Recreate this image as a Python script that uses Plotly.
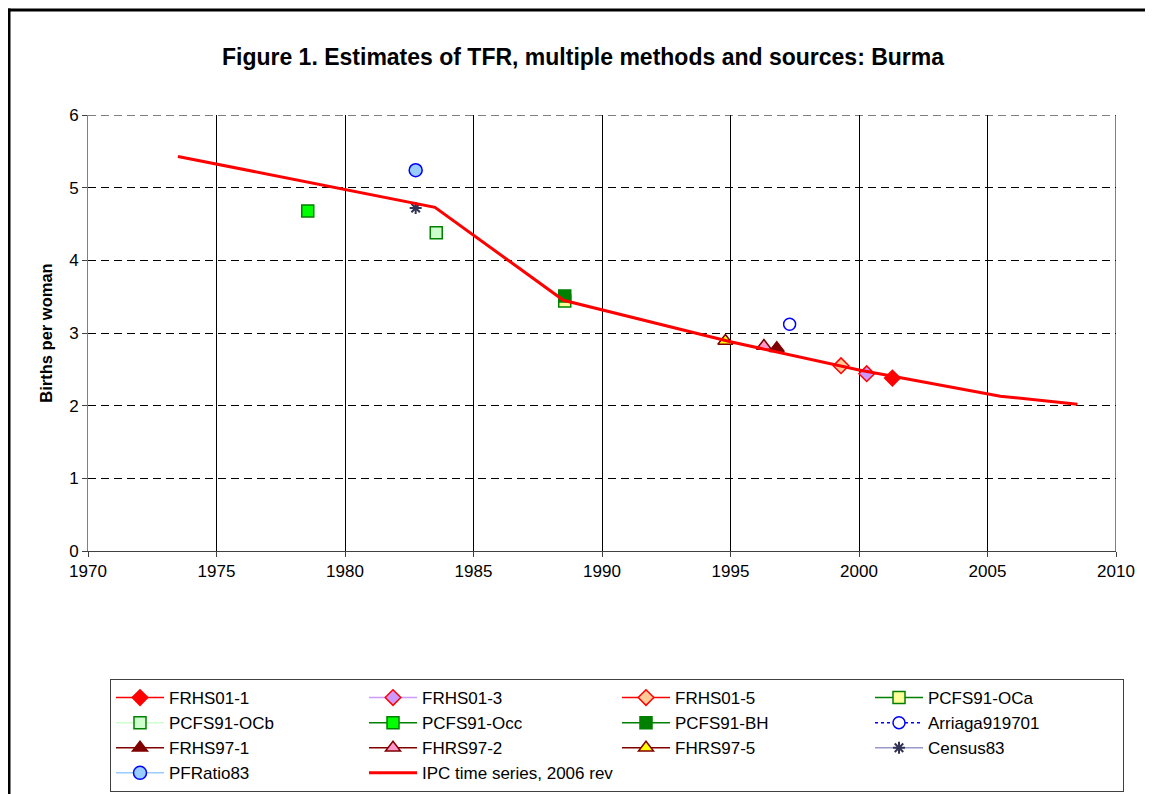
import plotly.graph_objects as go

# ---- data ----
ipc_years = [1973.5, 1983.5, 1988.5, 1995.0, 2000.0, 2005.5, 2008.5]
ipc_tfr = [5.43, 4.73, 3.45, 2.88, 2.49, 2.13, 2.02]

series_names = ["FRHS01-1", "FRHS01-3", "FRHS01-5", "PCFS91-OCa",
                "PCFS91-OCb", "PCFS91-Occ", "PCFS91-BH", "Arriaga919701",
                "FRHS97-1", "FHRS97-2", "FHRS97-5", "Census83",
                "PFRatio83"]
series_years = [2001.3, 2000.3, 1999.3, 1988.55,
                1983.55, 1978.55, 1988.55, 1997.3,
                1996.8, 1996.3, 1994.8, 1982.75,
                1982.75]
series_tfr = [2.38, 2.44, 2.55, 3.44,
              4.38, 4.68, 3.51, 3.12,
              2.79, 2.82, 2.89, 4.72,
              5.24]

x_ticks = [1970, 1975, 1980, 1985, 1990, 1995, 2000, 2005, 2010]
y_ticks = [0, 1, 2, 3, 4, 5, 6]

# ---- styles ----
styles = [
    dict(sym="diamond", fill="#FF0000", edge="#FF0000", line="#FF0000", dash="solid", size=12),
    dict(sym="diamond", fill="#CC99FF", edge="#FF0000", line="#CC99FF", dash="solid", size=12),
    dict(sym="diamond", fill="#FFCC99", edge="#FF0000", line="#FF0000", dash="solid", size=12),
    dict(sym="square", fill="#FFFF99", edge="#008000", line="#008000", dash="solid", size=12),
    dict(sym="square", fill="#CCFFCC", edge="#008000", line="#CCFFCC", dash="solid", size=12),
    dict(sym="square", fill="#00FF00", edge="#008000", line="#008000", dash="solid", size=12),
    dict(sym="square", fill="#008000", edge="#008000", line="#008000", dash="solid", size=12),
    dict(sym="circle", fill="#FFFFFF", edge="#0000FF", line="#0000FF", dash="dot", size=12),
    dict(sym="triangle-up", fill="#800000", edge="#800000", line="#800000", dash="solid", size=13),
    dict(sym="triangle-up", fill="#FF99CC", edge="#800000", line="#800000", dash="solid", size=13),
    dict(sym="triangle-up", fill="#FFFF00", edge="#800000", line="#800000", dash="solid", size=13),
    dict(sym="asterisk-open", fill="#333355", edge="#333355", line="#9999CC", dash="solid", size=10),
    dict(sym="circle", fill="#99CCFF", edge="#0000FF", line="#99CCFF", dash="solid", size=13),
]

fig = go.Figure()
for name, xv, yv, st in zip(series_names, series_years, series_tfr, styles):
    fig.add_trace(go.Scatter(
        x=[xv], y=[yv], name=name, mode="lines+markers",
        line=dict(color=st["line"], width=1.5, dash=st["dash"]),
        marker=dict(symbol=st["sym"], size=st["size"], color=st["fill"],
                    line=dict(color=st["edge"], width=2 if st["sym"].startswith("asterisk") else 1.5)),
    ))

fig.add_trace(go.Scatter(
    x=ipc_years, y=ipc_tfr, name="IPC time series, 2006 rev", mode="lines",
    line=dict(color="#FF0000", width=3),
))

# The page has an 8px body margin, so the figure is drawn at page offset (8, 8).
OFF = 8
W, H = 1153 - OFF, 794 - OFF
L, R, T, B = 88 - OFF, 1116 - OFF, 115 - OFF, 551 - OFF

def px(x):
    return (x - OFF - L) / (R - L)

def py(y):
    return (B - (y - OFF)) / (B - T)

fig.update_layout(
    width=W, height=H,
    margin=dict(l=L, r=W - R, t=T, b=H - B, autoexpand=False),
    paper_bgcolor="white", plot_bgcolor="white",
    font=dict(family="Liberation Sans, Arial, sans-serif", size=17, color="black"),
    title=dict(text="<b>Figure 1. Estimates of TFR, multiple methods and sources: Burma</b>",
               x=(583 - OFF) / W, xref="container", y=1 - (57 - OFF) / H, yref="container",
               xanchor="center", yanchor="middle",
               font=dict(size=23, color="black")),
    showlegend=True,
    legend=dict(orientation="h", xref="container", yref="container",
                x=(110 - OFF) / W, xanchor="left", y=1 - (679 - OFF) / H, yanchor="top",
                entrywidth=190, entrywidthmode="pixels", itemwidth=48,
                bordercolor="#404040", borderwidth=1, bgcolor="white",
                font=dict(size=17), traceorder="normal"),
    shapes=[
        # outer frame: left and top edges (right/bottom lie outside the picture)
        dict(type="line", xref="paper", yref="paper",
             x0=px(9), x1=px(9), y0=py(820), y1=py(8.5),
             line=dict(color="black", width=3), layer="below"),
        dict(type="line", xref="paper", yref="paper",
             x0=px(7.5), x1=px(1175), y0=py(10), y1=py(10),
             line=dict(color="black", width=3), layer="below"),
        dict(type="line", xref="paper", yref="y", x0=0, x1=1, y0=6, y1=6,
             line=dict(color="black", width=1, dash="8px,5px"), layer="below"),
        dict(type="line", xref="x", yref="paper", x0=2010, x1=2010, y0=0, y1=1,
             line=dict(color="black", width=1), layer="below"),
    ],
)

fig.update_xaxes(range=[1970, 2010], tickvals=x_ticks, ticktext=[str(v) for v in x_ticks],
                 showgrid=True, gridcolor="black", gridwidth=1,
                 showline=True, linecolor="#404040", linewidth=1,
                 ticks="outside", ticklen=5, tickcolor="#404040",
                 zeroline=False, tickfont=dict(size=17), automargin=False)
fig.update_yaxes(range=[0, 6], tickvals=y_ticks,
                 showgrid=True, gridcolor="black", gridwidth=1, griddash="8px,5px",
                 showline=True, linecolor="#808080", linewidth=1,
                 ticks="outside", ticklen=5, tickcolor="#404040",
                 zeroline=False, tickfont=dict(size=17), automargin=False,
                 title=dict(text="<b>Births per woman</b>", font=dict(size=16.5), standoff=12))

fig.write_html("out.html", post_script="document.body.style.overflow='hidden';",
               config={"displayModeBar": False})
